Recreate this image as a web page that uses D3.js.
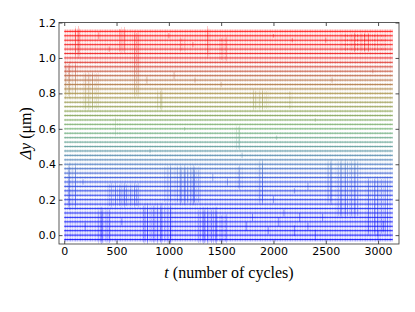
<!DOCTYPE html>
<html>
<head>
<meta charset="utf-8">
<script src="https://cdn.jsdelivr.net/npm/d3@7"></script>
<style>
body { margin: 0; background: #fff; }
</style>
</head>
<body>
<svg id="chart" width="415" height="312"></svg>
<script>
// vertical offset of each trace (um), bottom to top
var traceOffsets = [-0.025, 0.0, 0.025, 0.05, 0.075, 0.1, 0.125, 0.15, 0.175, 0.2,
    0.225, 0.25, 0.275, 0.3, 0.325, 0.35, 0.375, 0.4, 0.425, 0.45,
    0.475, 0.5, 0.525, 0.55, 0.575, 0.6, 0.625, 0.65, 0.675, 0.7,
    0.725, 0.75, 0.775, 0.8, 0.825, 0.85, 0.875, 0.9, 0.925, 0.95,
    0.975, 1.0, 1.025, 1.05, 1.075, 1.1, 1.125, 1.15];

// typical half-height of the background jitter of each trace (um)
var baseJitter = [0.011, 0.011, 0.011, 0.011, 0.011, 0.011, 0.010, 0.010, 0.010, 0.010,
    0.010, 0.010, 0.010, 0.010, 0.009, 0.009, 0.009, 0.009, 0.008, 0.008,
    0.008, 0.007, 0.007, 0.007, 0.007, 0.007, 0.007, 0.007, 0.008, 0.008,
    0.008, 0.008, 0.009, 0.009, 0.009, 0.009, 0.009, 0.009, 0.009, 0.010,
    0.010, 0.010, 0.010, 0.011, 0.011, 0.011, 0.011, 0.011];

var tStart = 0;
var tEnd = 3140;

// bursts of strong fluctuation: [t from, t to, lowest trace, highest trace, half-height]
var bursts = [
    [90, 160, 1.02, 1.16, 0.03],
    [520, 580, 1.03, 1.16, 0.025],
    [650, 720, 0.78, 1.14, 0.03],
    [1100, 1150, 1.05, 1.10, 0.015],
    [1360, 1400, 1.02, 1.16, 0.03],
    [1480, 1560, 1.00, 1.12, 0.02],
    [2650, 3080, 1.03, 1.13, 0.012],
    [2750, 2950, 1.05, 1.13, 0.018],
    [0, 130, 0.78, 0.96, 0.03],
    [180, 340, 0.72, 0.92, 0.025],
    [890, 950, 0.71, 0.80, 0.025],
    [1800, 1960, 0.71, 0.82, 0.025],
    [2140, 2180, 0.71, 0.82, 0.02],
    [470, 530, 0.56, 0.66, 0.015],
    [1610, 1680, 0.50, 0.61, 0.02],
    [30, 120, 0.16, 0.38, 0.035],
    [410, 720, 0.16, 0.29, 0.02],
    [480, 700, 0.18, 0.27, 0.028],
    [950, 1300, 0.18, 0.38, 0.022],
    [1100, 1300, 0.18, 0.36, 0.032],
    [1650, 1710, 0.27, 0.38, 0.02],
    [1840, 1900, 0.20, 0.40, 0.03],
    [2510, 2560, 0.20, 0.40, 0.03],
    [2600, 2830, 0.12, 0.40, 0.03],
    [2890, 3110, 0.01, 0.31, 0.03],
    [315, 440, -0.03, 0.14, 0.035],
    [750, 1040, -0.03, 0.15, 0.03],
    [1270, 1460, -0.03, 0.14, 0.035],
    [1460, 1560, -0.03, 0.12, 0.02]
];

// isolated spikes: [t, trace offset, half-height]
var spikes = [
    [330, 1.125, 0.02], [1000, 1.125, 0.015], [1230, 1.075, 0.015], [2000, 1.125, 0.01],
    [2180, 1.1, 0.012], [2500, 1.1, 0.015], [430, 1.05, 0.015],
    [790, 0.875, 0.02], [1050, 0.9, 0.02], [1250, 0.875, 0.015], [1500, 0.85, 0.015],
    [2560, 0.875, 0.015], [2950, 0.925, 0.012],
    [1150, 0.6, 0.01], [2030, 0.55, 0.012], [2400, 0.65, 0.01], [820, 0.475, 0.012],
    [1700, 0.45, 0.015],
    [1560, 0.3, 0.02], [2050, 0.075, 0.025], [2100, 0.125, 0.02], [2200, 0.025, 0.03],
    [2250, 0.1, 0.025], [2330, 0.05, 0.02], [2400, 0.0, 0.03], [2470, 0.1, 0.02],
    [1740, 0.05, 0.025], [1800, 0.1, 0.02], [1950, 0.025, 0.02], [2000, 0.2, 0.02],
    [200, 0.05, 0.02], [550, 0.075, 0.02], [180, 0.3, 0.015], [1420, 0.325, 0.02],
    [2330, 0.275, 0.02], [2200, 0.25, 0.015], [3050, 0.05, 0.03], [3000, 0.0, 0.025]
];

// trace colour along the offset
var colorStops = [0.0, 0.3, 0.42, 0.5, 0.6, 0.7, 0.8, 0.9, 1.0, 1.15];
var colorValues = ["#0000ff", "#2848e0", "#5080b8", "#5a9a9a", "#70b070", "#8aa050", "#a89048", "#b86040", "#e82020", "#ff0000"];

var xTicks = [0, 500, 1000, 1500, 2000, 2500, 3000];
var yTicks = [0.0, 0.2, 0.4, 0.6, 0.8, 1.0, 1.2];

var svg = d3.select("#chart");
var padL = 59, padR = 399, padT = 22.5, padB = 244;

var x = d3.scaleLinear().domain([-50, 3200]).range([padL, padR]);
var y = d3.scaleLinear().domain([-0.05, 1.2]).range([padB, padT]);
var color = d3.scaleLinear().domain(colorStops).range(colorValues).interpolate(d3.interpolateRgb);

var defs = svg.append("defs");
defs.append("clipPath").attr("id", "plotclip")
    .append("rect").attr("x", padL).attr("y", padT).attr("width", padR - padL).attr("height", padB - padT);

// vertical hatching used to mimic the dense oscillation
function hatch(id, w, strokes) {
    var p = defs.append("pattern").attr("id", id)
        .attr("patternUnits", "userSpaceOnUse").attr("width", w).attr("height", 20);
    strokes.forEach(function (s) {
        p.append("rect").attr("x", s[0]).attr("y", 0).attr("width", s[1]).attr("height", 20)
            .attr("fill", "#fff").attr("fill-opacity", s[2]);
    });
    var m = defs.append("mask").attr("id", id + "m").attr("maskUnits", "userSpaceOnUse")
        .attr("x", 0).attr("y", 0).attr("width", 415).attr("height", 312);
    m.append("rect").attr("width", 415).attr("height", 312).attr("fill", "url(#" + id + ")");
}
hatch("hA", 5, [[0, 0.6, 0.9], [1.1, 0.5, 0.5], [2.2, 0.6, 0.8], [3.4, 0.5, 0.45], [4.2, 0.5, 0.7]]);
hatch("hB", 17, [[0, 0.7, 0.9], [1.5, 0.5, 0.4], [3.8, 0.6, 0.7], [5, 0.4, 0.3], [7.2, 0.7, 1],
    [9.5, 0.5, 0.5], [11, 0.6, 0.8], [13.6, 0.4, 0.35], [15, 0.6, 0.6]]);
hatch("hC", 23, [[0, 0.6, 0.9], [6.5, 0.5, 0.6], [9.2, 0.6, 1], [15.8, 0.5, 0.5], [19.4, 0.6, 0.8]]);

var plot = svg.append("g").attr("clip-path", "url(#plotclip)");

var jitterG = plot.append("g").attr("mask", "url(#hAm)");
var burstOuter = plot.append("g").attr("mask", "url(#hCm)");
var burstInner = plot.append("g").attr("mask", "url(#hBm)");
var lineG = plot.append("g");

traceOffsets.forEach(function (off, i) {
    var c = color(off);
    jitterG.append("rect")
        .attr("x", x(tStart)).attr("width", x(tEnd) - x(tStart))
        .attr("y", y(off + baseJitter[i])).attr("height", y(off - baseJitter[i]) - y(off + baseJitter[i]))
        .attr("fill", c).attr("fill-opacity", 0.6);

    bursts.forEach(function (b) {
        if (off < b[2] - 0.001 || off > b[3] + 0.001) return;
        burstOuter.append("rect")
            .attr("x", x(b[0])).attr("width", x(b[1]) - x(b[0]))
            .attr("y", y(off + b[4])).attr("height", y(off - b[4]) - y(off + b[4]))
            .attr("fill", c).attr("fill-opacity", 0.4);
        burstInner.append("rect")
            .attr("x", x(b[0])).attr("width", x(b[1]) - x(b[0]))
            .attr("y", y(off + b[4] * 0.55)).attr("height", y(off - b[4] * 0.55) - y(off + b[4] * 0.55))
            .attr("fill", c).attr("fill-opacity", 0.4);
    });

    lineG.append("line")
        .attr("x1", x(tStart)).attr("x2", x(tEnd))
        .attr("y1", y(off)).attr("y2", y(off))
        .attr("stroke", c).attr("stroke-width", 1.0).attr("stroke-opacity", 0.85);
});

lineG.selectAll("line.spike").data(spikes).enter().append("line")
    .attr("class", "spike")
    .attr("x1", function (d) { return x(d[0]); }).attr("x2", function (d) { return x(d[0]); })
    .attr("y1", function (d) { return y(d[1] + d[2]); }).attr("y2", function (d) { return y(d[1] - d[2]); })
    .attr("stroke", function (d) { return color(d[1]); })
    .attr("stroke-width", 0.7).attr("stroke-opacity", 0.6);

// axes, ticks pointing inwards on all four sides
var fmt = d3.format(".1f");
svg.append("g").attr("transform", "translate(0," + padB + ")")
    .call(d3.axisBottom(x).tickValues(xTicks).tickFormat(d3.format("d")).tickSizeInner(-3.5).tickSizeOuter(0).tickPadding(3.5));
svg.append("g").attr("transform", "translate(" + padL + ",0)")
    .call(d3.axisLeft(y).tickValues(yTicks).tickFormat(fmt).tickSizeInner(-3.5).tickSizeOuter(0).tickPadding(3));
svg.append("g").attr("transform", "translate(0," + padT + ")")
    .call(d3.axisTop(x).tickValues(xTicks).tickSizeInner(-3.5).tickSizeOuter(0).tickFormat(""));
svg.append("g").attr("transform", "translate(" + padR + ",0)")
    .call(d3.axisRight(y).tickValues(yTicks).tickSizeInner(-3.5).tickSizeOuter(0).tickFormat(""));

svg.selectAll(".domain").remove();
svg.selectAll(".tick line").attr("stroke", "#222").attr("stroke-width", 0.8);
svg.selectAll(".tick text")
    .style("font-family", "DejaVu Sans")
    .style("font-size", "11px")
    .attr("fill", "#000");

svg.append("rect")
    .attr("x", padL).attr("y", padT).attr("width", padR - padL).attr("height", padB - padT)
    .attr("fill", "none").attr("stroke", "#333").attr("stroke-width", 0.8);

var xl = svg.append("text")
    .attr("x", (padL + padR) / 2).attr("y", 278)
    .attr("text-anchor", "middle")
    .style("font-family", "Liberation Serif")
    .style("font-size", "16px");
xl.append("tspan").style("font-style", "italic").text("t");
xl.append("tspan").text(" (number of cycles)");

var yl = svg.append("text")
    .attr("transform", "translate(31," + ((padT + padB) / 2) + ") rotate(-90)")
    .attr("text-anchor", "middle")
    .style("font-family", "Liberation Serif")
    .style("font-size", "16px");
yl.append("tspan").style("font-style", "italic").text("Δy");
yl.append("tspan").text(" (μm)");
</script>
</body>
</html>
